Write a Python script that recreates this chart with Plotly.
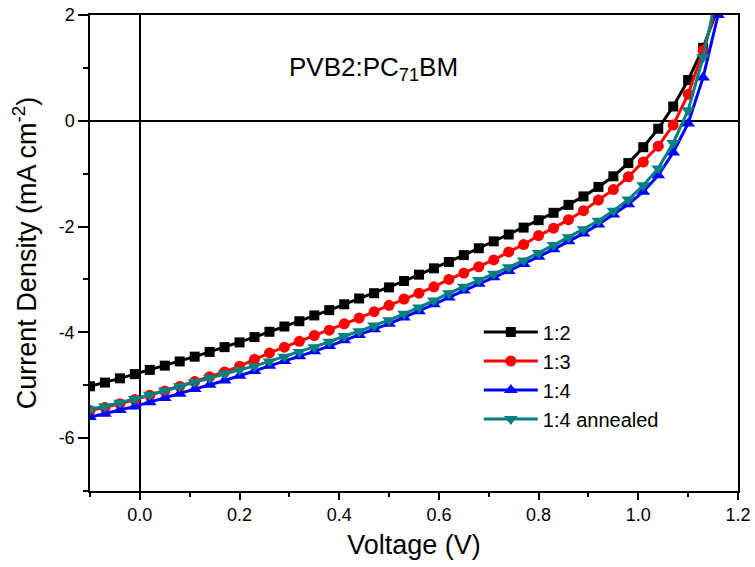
import plotly.graph_objects as go

# voltage sweep (V)
voltage = [-0.10, -0.07, -0.04, -0.01, 0.02, 0.05, 0.08, 0.11, 0.14, 0.17,
           0.20, 0.23, 0.26, 0.29, 0.32, 0.35, 0.38, 0.41, 0.44, 0.47,
           0.50, 0.53, 0.56, 0.59, 0.62, 0.65, 0.68, 0.71, 0.74, 0.77,
           0.80, 0.83, 0.86, 0.89, 0.92, 0.95, 0.98, 1.01, 1.04, 1.07,
           1.10, 1.13, 1.16]

# current density (mA cm^-2)
j_12 = [-5.02, -4.95, -4.87, -4.79, -4.71, -4.63, -4.55, -4.46, -4.37, -4.28,
        -4.19, -4.09, -3.99, -3.89, -3.79, -3.68, -3.58, -3.47, -3.36, -3.26,
        -3.15, -3.03, -2.91, -2.79, -2.67, -2.54, -2.41, -2.28, -2.15, -2.02,
        -1.88, -1.74, -1.59, -1.43, -1.25, -1.05, -0.80, -0.50, -0.15, 0.27,
        0.77, 1.38, 2.15]
j_13 = [-5.48, -5.42, -5.35, -5.27, -5.19, -5.11, -5.02, -4.93, -4.84, -4.75,
        -4.64, -4.51, -4.39, -4.28, -4.17, -4.06, -3.96, -3.84, -3.73, -3.61,
        -3.49, -3.37, -3.26, -3.14, -3.00, -2.88, -2.76, -2.63, -2.48, -2.34,
        -2.17, -2.03, -1.87, -1.70, -1.50, -1.30, -1.06, -0.78, -0.48, -0.08,
        0.50, 1.33, 2.25]
j_14 = [-5.60, -5.54, -5.47, -5.40, -5.32, -5.24, -5.16, -5.07, -4.99, -4.91,
        -4.82, -4.73, -4.63, -4.54, -4.45, -4.36, -4.26, -4.15, -4.05, -3.94,
        -3.84, -3.72, -3.60, -3.47, -3.34, -3.21, -3.08, -2.96, -2.84, -2.71,
        -2.57, -2.43, -2.28, -2.13, -1.96, -1.77, -1.58, -1.34, -1.03, -0.60,
        -0.05, 0.82, 2.00]
j_14a = [-5.46, -5.40, -5.33, -5.26, -5.18, -5.10, -5.02, -4.94, -4.86, -4.78,
         -4.71, -4.64, -4.55, -4.46, -4.37, -4.28, -4.18, -4.07, -3.98, -3.87,
         -3.77, -3.65, -3.53, -3.40, -3.26, -3.14, -3.01, -2.89, -2.77, -2.64,
         -2.50, -2.35, -2.20, -2.05, -1.89, -1.70, -1.49, -1.22, -0.90, -0.42,
         0.20, 1.20, 2.50]

names = ["1:2", "1:3", "1:4", "1:4 annealed"]
colors = ["#000000", "#ff0000", "#0000ff", "#008080"]
symbols = ["square", "circle", "triangle-up", "triangle-down"]
sizes = [10, 11, 12, 12]
series = [j_12, j_13, j_14, j_14a]

y_ticks = [-6, -4, -2, 0, 2]
y_labels = ["-6", "-4", "-2", "0", "2"]

font = "Liberation Sans, Arial, sans-serif"

fig = go.Figure()
for name, col, sym, sz, ys in zip(names, colors, symbols, sizes, series):
    fig.add_trace(go.Scatter(x=voltage, y=ys, name=name, mode="lines+markers",
                             line=dict(color=col, width=3),
                             marker=dict(symbol=sym, size=sz, color=col)))

axis_style = dict(showline=True, linecolor="black", linewidth=1.5, mirror=True,
                  ticks="outside", tickwidth=1.5, tickcolor="black",
                  showgrid=False, zeroline=True, zerolinecolor="black",
                  zerolinewidth=1.5, automargin=False,
                  tickfont=dict(family=font, size=18, color="black"))

fig.update_xaxes(axis_style, range=[-0.1, 1.2], tick0=0, dtick=0.2, tickformat=".1f",
                 ticklen=7,
                 minor=dict(ticks="outside", ticklen=4, dtick=0.1, tick0=0,
                            tickcolor="black", tickwidth=1.5),
                 title=dict(text="Voltage (V)", font=dict(family=font, size=27, color="black"),
                            standoff=11))
fig.update_yaxes(axis_style, range=[-7, 2], tickvals=y_ticks, ticktext=y_labels,
                 ticklen=10,
                 minor=dict(ticks="outside", ticklen=5, dtick=1, tick0=0,
                            tickcolor="black", tickwidth=1.5),
                 title=dict(text="Current Density (mA cm<sup>-2</sup>)",
                            font=dict(family=font, size=27, color="black"), standoff=14))

fig.add_annotation(text="PVB2:PC<sub>71</sub>BM", xref="paper", yref="paper",
                   x=0.437, y=0.927, showarrow=False,
                   font=dict(family=font, size=26, color="black"))

fig.update_layout(width=755, height=567, plot_bgcolor="white", paper_bgcolor="white",
                  margin=dict(l=90, r=17, t=15, b=76),
                  legend=dict(x=0.6, y=0.375, xanchor="left", yanchor="top",
                              bgcolor="rgba(0,0,0,0)", itemwidth=54,
                              font=dict(family=font, size=20, color="black"),
                              tracegroupgap=0))

fig.write_html("out.html", config={"displayModeBar": False},
               post_script="document.body.style.margin='0';")
